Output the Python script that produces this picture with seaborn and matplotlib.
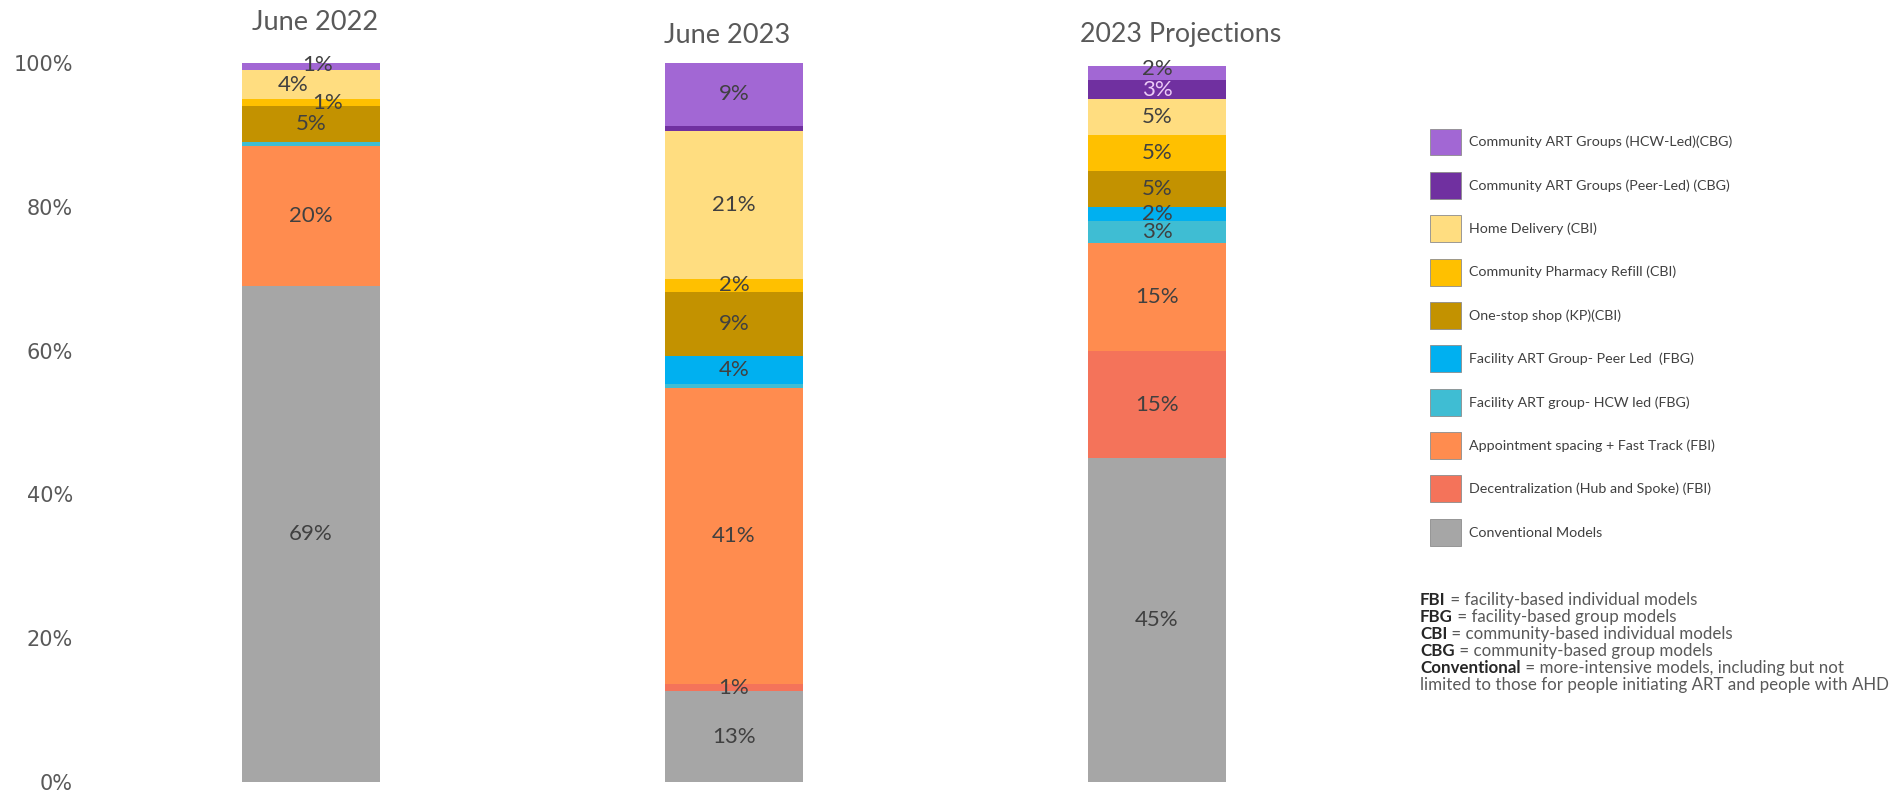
import matplotlib
matplotlib.use("Agg")
import matplotlib.pyplot as plt
import seaborn as sns
import numpy as np
from matplotlib.patches import Patch

# ---------------- data ----------------
periods = ["June 2022", "June 2023", "2023 Projections"]
models = [
    "Conventional Models",
    "Decentralization (Hub and Spoke) (FBI)",
    "Appointment spacing + Fast Track (FBI)",
    "Facility ART group- HCW led (FBG)",
    "Facility ART Group- Peer Led  (FBG)",
    "One-stop shop (KP)(CBI)",
    "Community Pharmacy Refill (CBI)",
    "Home Delivery (CBI)",
    "Community ART Groups (Peer-Led) (CBG)",
    "Community ART Groups (HCW-Led)(CBG)",
]
conventional     = [69.0, 12.6, 45.0]
decentralization = [0.0, 1.0, 15.0]
appointment      = [19.5, 41.2, 15.0]
fac_hcw          = [0.5, 0.5, 3.0]
fac_peer         = [0.0, 3.9, 2.0]
one_stop         = [5.0, 9.0, 5.0]
pharmacy         = [1.0, 1.8, 5.0]
home_delivery    = [4.0, 20.6, 5.0]
cag_peer         = [0.0, 0.7, 2.6]
cag_hcw          = [1.0, 8.7, 2.0]
series = [conventional, decentralization, appointment, fac_hcw, fac_peer,
          one_stop, pharmacy, home_delivery, cag_peer, cag_hcw]

colors = ["#A6A6A6", "#F4735A", "#FF8C4F", "#3FBDD3", "#00B0F0",
          "#C39200", "#FFC000", "#FFDD80", "#7030A0", "#A267D4"]

yticks = [0, 20, 40, 60, 80, 100]
ytick_labels = ["0%", "20%", "40%", "60%", "80%", "100%"]

footnote = [
    ("FBI", " = facility-based individual models"),
    ("FBG", " = facility-based group models"),
    ("CBI", " = community-based individual models"),
    ("CBG", " = community-based group models"),
    ("Conventional", " = more-intensive models, including but not"),
    ("", "limited to those for people initiating ART and people with AHD"),
]

# ---------------- figure ----------------
sns.set_style("white")
plt.rcParams["font.family"] = ["Lato", "DejaVu Sans"]

W, H = 1896, 793
fig = plt.figure(figsize=(W / 100, H / 100), dpi=100)
ax_left, ax_right = 80, 1390
ax_bottom, ax_top = 782, 63
ax = fig.add_axes([ax_left / W, 1 - ax_bottom / H,
                   (ax_right - ax_left) / W, (ax_bottom - ax_top) / H])

bar_w = 0.324
bottoms = np.zeros(len(periods))
label_color = "#404040"
# small nudges (in points) for crowded labels, keyed by (series, period)
nudges = {(9, 0): (5, 1), (7, 0): (-13, 0), (6, 0): (12, 0), (9, 2): (0, 3)}
for si, (vals, c) in enumerate(zip(series, colors)):
    vals = np.array(vals, dtype=float)
    sns.barplot(x=periods, y=vals, bottom=bottoms, color=c, width=bar_w,
                order=periods, ax=ax, saturation=1, linewidth=0, errorbar=None)
    for pi, v in enumerate(vals):
        if v >= 0.95:
            tc = "#EBC9F7" if si == 8 else label_color
            ax.annotate(f"{v:.0f}%", (pi, bottoms[pi] + v / 2),
                        xytext=nudges.get((si, pi), (0, 0)), textcoords="offset points",
                        ha="center", va="center", fontsize=16, color=tc)
    bottoms = bottoms + vals

ax.set_ylim(0, 100)
center0, step = 311, 423
ax.set_xlim(-(center0 - ax_left) / step, 2 + (ax_right - (center0 + 2 * step)) / step)
ax.set_yticks(yticks)
ax.set_yticklabels(ytick_labels, fontsize=15, color="#595959", family="DejaVu Sans")
ax.set_xticks([])
ax.set_xlabel("")
ax.set_ylabel("")
ax.tick_params(axis="y", length=0, pad=5)
for s in ax.spines.values():
    s.set_visible(False)

# period titles above bars
title_y = [105.7, 103.8, 103.9]
title_dx = [0.01, -0.017, 0.055]
title_fs = [19.6, 19.6, 19.3]
for pi, p in enumerate(periods):
    ax.text(pi + title_dx[pi], title_y[pi], p, ha="center", va="center",
            fontsize=title_fs[pi], color="#595959", clip_on=False)

# legend
handles = [Patch(facecolor=colors[i], edgecolor="#8c8c8c", linewidth=0.6, label=models[i])
           for i in range(len(models) - 1, -1, -1)]
fig.legend(handles=handles, loc="upper left", bbox_to_anchor=(1424 / W, 1 - 123 / H),
           frameon=False, fontsize=10.3, labelcolor="#404040",
           handlelength=2.2, handleheight=2.5, handletextpad=0.55, labelspacing=1.16,
           borderaxespad=0)

# footnote
fig.canvas.draw()
renderer = fig.canvas.get_renderer()
x0, y0, dy = 1420, 600, 17
for li, (b, r) in enumerate(footnote):
    yy = 1 - (y0 + li * dy) / H
    xx = x0
    if b:
        t = fig.text(x0 / W, yy, b, fontsize=12.2, fontweight="bold", color="#262626",
                     ha="left", va="center")
        bb = t.get_window_extent(renderer)
        xx = x0 + bb.width
    fig.text(xx / W, yy, r, fontsize=12.2, color="#595959", ha="left", va="center")

fig.savefig("out.png", dpi=100)
